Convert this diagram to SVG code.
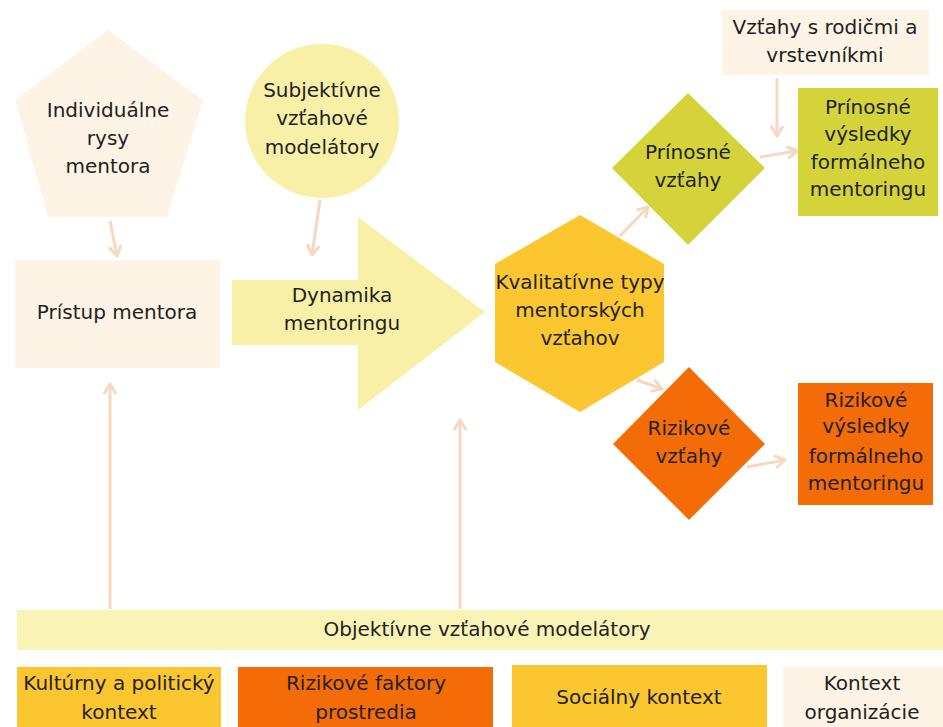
<svg xmlns="http://www.w3.org/2000/svg" width="943" height="727" viewBox="0 0 943 727">
<style>
text{font-family:"DejaVu Sans","Liberation Sans",sans-serif;font-size:20px;fill:#222;text-anchor:middle}
.cream{fill:#FDF4E6}
.lyel{fill:#F9F0A8}
.bar{fill:#FAF3B6}
.gold{fill:#FBC630}
.green{fill:#D5D33A}
.orange{fill:#F46C08}
.con{stroke:#F7D7C1;stroke-width:3;fill:none;marker-end:url(#ah)}
</style>
<defs>
<marker id="ah" viewBox="0 0 14 14" refX="11" refY="7" markerWidth="14" markerHeight="14" markerUnits="userSpaceOnUse" orient="auto">
<path d="M2,1.5 L11,7 L2,12.5" fill="none" stroke="#F7D7C1" stroke-width="3" stroke-linecap="round" stroke-linejoin="round"/>
</marker>
</defs>
<rect width="943" height="727" fill="#fff"/>

<g id="individualne">
<polygon class="cream" points="108,30 203,100 167,217 48,217 15,100"/>
<text x="108" y="117">Individuálne</text>
<text x="108" y="145">rysy</text>
<text x="108" y="173">mentora</text>
</g>

<g id="pristup">
<rect class="cream" x="15" y="260" width="205" height="108"/>
<text x="117" y="319">Prístup mentora</text>
</g>

<g id="subjektivne">
<circle class="lyel" cx="322" cy="121" r="77"/>
<text x="322" y="97">Subjektívne</text>
<text x="322" y="125">vzťahové</text>
<text x="322" y="154">modelátory</text>
</g>

<g id="dynamika">
<polygon class="lyel" points="232,280 358,280 358,217 485,312 358,410 358,345 232,345"/>
<text x="342" y="302">Dynamika</text>
<text x="342" y="330">mentoringu</text>
</g>

<g id="kvalitativne">
<polygon class="gold" points="580,215 664,264 664,362 580,412 495,362 495,264"/>
<text x="580" y="289">Kvalitatívne typy</text>
<text x="580" y="317">mentorských</text>
<text x="580" y="345">vzťahov</text>
</g>

<g id="prinosne-vztahy">
<polygon class="green" points="688,93 765,168 688,245 612,168"/>
<text x="688" y="159">Prínosné</text>
<text x="688" y="187">vzťahy</text>
</g>

<g id="vztahy-rodicmi">
<rect class="cream" x="722" y="10" width="207" height="65"/>
<text x="825" y="34">Vzťahy s rodičmi a</text>
<text x="825" y="62">vrstevníkmi</text>
</g>

<g id="prinosne-vysledky">
<rect class="green" x="798" y="88" width="140" height="128"/>
<text x="868" y="114">Prínosné</text>
<text x="868" y="141">výsledky</text>
<text x="868" y="169">formálneho</text>
<text x="868" y="196">mentoringu</text>
</g>

<g id="rizikove-vztahy">
<polygon class="orange" points="689,367 765,444 689,520 613,444"/>
<text x="689" y="435">Rizikové</text>
<text x="689" y="463">vzťahy</text>
</g>

<g id="rizikove-vysledky">
<rect class="orange" x="798" y="383" width="135" height="122"/>
<text x="866" y="407">Rizikové</text>
<text x="866" y="433">výsledky</text>
<text x="866" y="463">formálneho</text>
<text x="866" y="490">mentoringu</text>
</g>

<g id="objektivne">
<rect class="bar" x="17" y="610" width="926" height="40"/>
<text x="487" y="636">Objektívne vzťahové modelátory</text>
</g>

<g id="kulturny">
<rect class="gold" x="17" y="667" width="204" height="60"/>
<text x="119" y="690">Kultúrny a politický</text>
<text x="119" y="719">kontext</text>
</g>

<g id="rizikove-faktory">
<rect class="orange" x="238" y="667" width="255" height="60"/>
<text x="366" y="690">Rizikové faktory</text>
<text x="366" y="719">prostredia</text>
</g>

<g id="socialny">
<rect class="gold" x="512" y="665" width="255" height="62"/>
<text x="639" y="704">Sociálny kontext</text>
</g>

<g id="organizacie">
<rect class="cream" x="783" y="667" width="160" height="60"/>
<text x="862" y="690">Kontext</text>
<text x="862" y="719">organizácie</text>
</g>

<g id="connectors">
<line class="con" x1="110" y1="221" x2="117" y2="256"/>
<line class="con" x1="320" y1="200" x2="312" y2="255"/>
<line class="con" x1="620" y1="236" x2="648" y2="207"/>
<line class="con" x1="637" y1="380" x2="662" y2="389"/>
<line class="con" x1="777" y1="78" x2="777" y2="136"/>
<line class="con" x1="760" y1="157" x2="797" y2="151"/>
<line class="con" x1="747" y1="467" x2="785" y2="460"/>
<line class="con" x1="110" y1="609" x2="110" y2="384"/>
<line class="con" x1="460" y1="609" x2="460" y2="420"/>
</g>
</svg>
